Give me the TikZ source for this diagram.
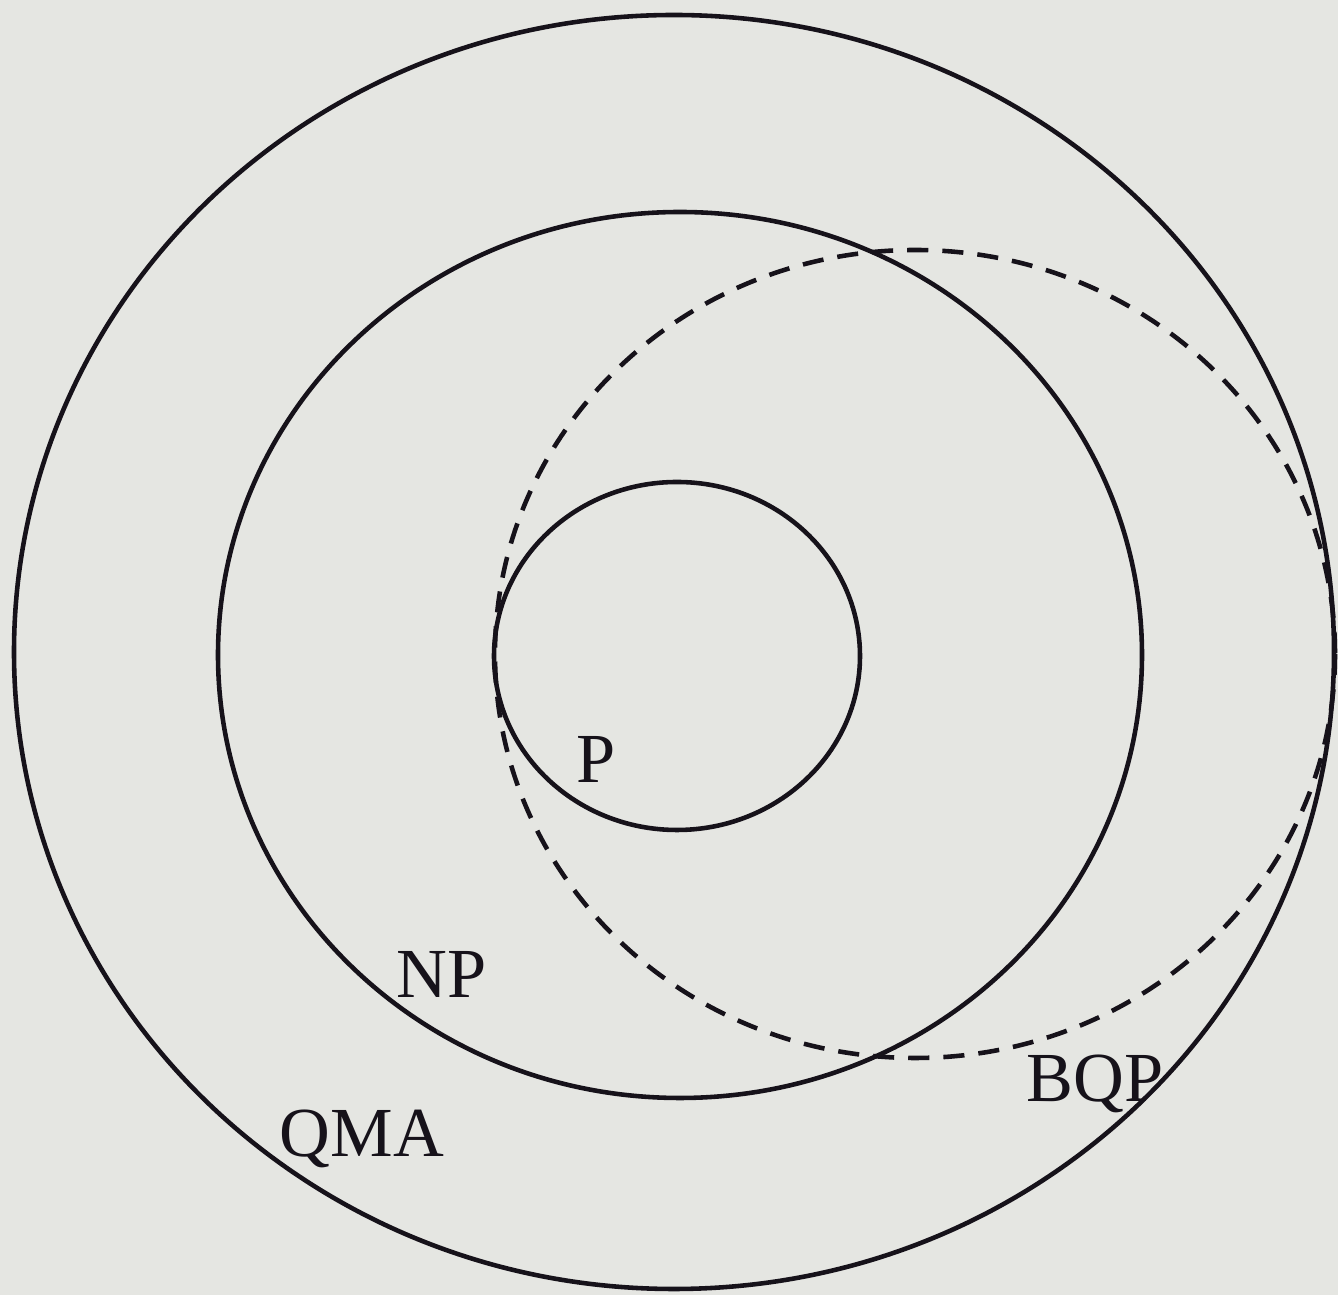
\documentclass[tikz,border=0pt]{standalone}
\usepackage{fontspec}
\setmainfont{Liberation Serif}
\usepackage{tikz}
\definecolor{paper}{RGB}{229,230,226}
\definecolor{ink}{RGB}{22,18,26}
\tikzset{
  cls/.style={draw=ink,line width=1.3pt},
  qcls/.style={cls,dash pattern=on 6pt off 4pt},
  lbl/.style={inner sep=0pt,anchor=base west,text=ink,font=\fontsize{20}{22}\selectfont},
}

\begin{document}
\begin{tikzpicture}[x=0.01cm,y=-0.01cm]
 \fill[paper] (0,0) rectangle (1338,1295);
 \useasboundingbox (0,0) rectangle (1338,1295);
 % classes
 \draw[cls] (674,652) ellipse [x radius=660,y radius=637];
 \draw[cls] (680,655) ellipse [x radius=462,y radius=443];
 \draw[cls] (677,656) ellipse [x radius=183,y radius=174];
 \draw[qcls] (915,654) ellipse [x radius=420,y radius=404];
 % names
 \node[lbl] (p) at (576,783){P};
 \node[lbl] (np) at (396,998){NP};
 \node[lbl] (bqp) at (1026,1102){BQP};
 \node[lbl] (qma) at (279,1157){QMA};
\end{tikzpicture}
\end{document}
